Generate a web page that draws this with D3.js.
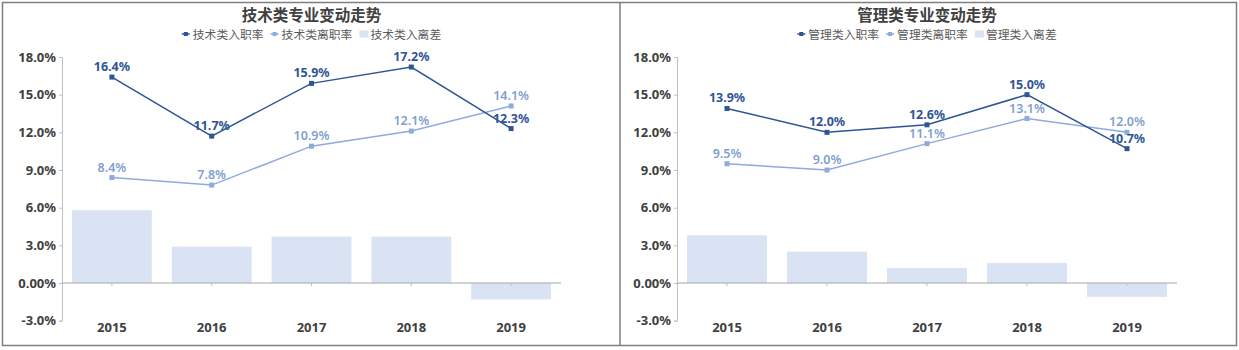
<!DOCTYPE html>
<html><head><meta charset="utf-8">
<script src="https://cdn.jsdelivr.net/npm/d3@7"></script>
<style>
html,body{margin:0;padding:0;background:#fff;}
svg{display:block;font-family:"Noto Sans CJK SC","Noto Sans",sans-serif;}
</style></head>
<body><svg id="c" width="1239" height="350"></svg>
<script>
const years = ["2015","2016","2017","2018","2019"];
const yTicks = [-3,0,3,6,9,12,15,18];

const techTitle = "技术类专业变动走势";
const techNames = ["技术类入职率","技术类离职率","技术类入离差"];
const techEntry = [16.4, 11.7, 15.9, 17.2, 12.3];
const techLeave = [8.4, 7.8, 10.9, 12.1, 14.1];
const techDiff  = [5.8, 2.9, 3.7, 3.7, -1.3];

const mgmtTitle = "管理类专业变动走势";
const mgmtNames = ["管理类入职率","管理类离职率","管理类入离差"];
const mgmtEntry = [13.9, 12.0, 12.6, 15.0, 10.7];
const mgmtLeave = [9.5, 9.0, 11.1, 13.1, 12.0];
const mgmtDiff  = [3.8, 2.5, 1.2, 1.6, -1.1];

const C_DARK = "#2f5597", C_LIGHT = "#8faadc", C_LIGHT_TXT = "#7f9fd0", C_BAR = "#dae3f3";
const svg = d3.select("#c");

// outer frame
svg.append("rect").attr("x",2.5).attr("y",2.5).attr("width",1234).attr("height",343)
  .attr("fill","none").attr("stroke","#7f7f7f").attr("stroke-width",1.5);
svg.append("line").attr("x1",620).attr("x2",620).attr("y1",2.5).attr("y2",345.5)
  .attr("stroke","#7f7f7f").attr("stroke-width",1.5);

function panel(x0, x1, title, names, entry, leave, diff) {
  const g = svg.append("g");
  const x = d3.scaleBand().domain(years).range([x0, x1]).paddingInner(0.2).paddingOuter(0.1);
  const y = d3.scaleLinear().domain([-3, 18]).range([320.7, 57]);
  const cx = d => x(d) + x.bandwidth()/2;
  const mid = (x0 + x1) / 2;

  // title
  g.append("text").attr("x", mid).attr("y", 20.5).attr("text-anchor","middle")
    .attr("font-size", 15.5).attr("font-weight","bold").attr("fill","#404040").text(title);

  // legend
  const lg = g.append("g");
  let cur = 0;
  names.forEach((n, i) => {
    const it = lg.append("g").attr("transform", `translate(${cur},0)`);
    if (i < 2) {
      const col = i === 0 ? C_DARK : C_LIGHT;
      it.append("line").attr("x1",0).attr("x2",8).attr("y1",0).attr("y2",0).attr("stroke",col).attr("stroke-width",1.5);
      it.append("rect").attr("x",2).attr("y",-2).attr("width",4).attr("height",4).attr("fill",col);
    } else {
      it.append("rect").attr("x",0).attr("y",-3.5).attr("width",9).attr("height",7).attr("fill",C_BAR);
    }
    const t = it.append("text").attr("x", 11).attr("y", 4.5).attr("font-size", 11.8).attr("fill","#595959").text(n);
    cur += 11 + t.node().getComputedTextLength() + 7;
  });
  const lw = cur - 7;
  lg.attr("transform", `translate(${mid - lw/2},34)`);

  // y axis
  const yAxis = d3.axisLeft(y).tickValues(yTicks).tickSize(3).tickPadding(3)
    .tickFormat(d => d === 0 ? "0.00%" : d.toFixed(1) + "%");
  const ya = g.append("g").attr("transform", `translate(${x0},0)`).call(yAxis);
  ya.select(".domain").attr("stroke","#bfbfbf");
  ya.selectAll(".tick line").attr("stroke","#bfbfbf");
  ya.selectAll(".tick text").attr("font-size",13).attr("font-weight","bold").attr("fill","#404040")
    .attr("font-family","\"Noto Sans\",sans-serif");

  // bars
  g.selectAll(".bar").data(years).enter().append("rect")
    .attr("x", d => x(d)).attr("width", x.bandwidth())
    .attr("y", (d,i) => y(Math.max(0, diff[i])))
    .attr("height", (d,i) => Math.abs(y(diff[i]) - y(0)))
    .attr("fill", C_BAR);

  // x axis at zero
  const xAxis = d3.axisBottom(x).tickSize(3).tickFormat("");
  const xa = g.append("g").attr("transform", `translate(0,${y(0)})`).call(xAxis);
  xa.select(".domain").attr("stroke","#a6a6a6").attr("d", `M${x0},0H${x1}`);
  xa.selectAll(".tick line").attr("stroke","#bfbfbf");
  // category labels at bottom
  g.selectAll(".xl").data(years).enter().append("text")
    .attr("x", d => cx(d)).attr("y", 332).attr("text-anchor","middle")
    .attr("font-size",13).attr("font-weight","bold").attr("fill","#404040")
    .attr("font-family","\"Noto Sans\",sans-serif").text(d => d);

  // lines
  const series = [
    {vals: leave, col: C_LIGHT, txt: C_LIGHT_TXT, w: "600"},
    {vals: entry, col: C_DARK, txt: C_DARK, w: "bold"}
  ];
  series.forEach(s => {
    const line = d3.line().x((d,i) => cx(years[i])).y(d => y(d));
    g.append("path").attr("d", line(s.vals)).attr("fill","none").attr("stroke", s.col).attr("stroke-width",1.5);
    g.selectAll(null).data(s.vals).enter().append("rect")
      .attr("x",(d,i)=>cx(years[i])-2.5).attr("y",d=>y(d)-2.5).attr("width",5).attr("height",5).attr("fill",s.col);
  });
  series.forEach(s => {
    g.selectAll(null).data(s.vals).enter().append("text")
      .attr("x",(d,i)=>cx(years[i])).attr("y",d=>y(d)-6).attr("text-anchor","middle")
      .attr("font-size",12.5).attr("font-weight",s.w).attr("fill",s.txt)
      .attr("font-family","\"Noto Sans\",sans-serif")
      .text(d => d.toFixed(1) + "%");
  });
}

panel(62, 561, techTitle, techNames, techEntry, techLeave, techDiff);
panel(677, 1177, mgmtTitle, mgmtNames, mgmtEntry, mgmtLeave, mgmtDiff);
</script></body></html>
